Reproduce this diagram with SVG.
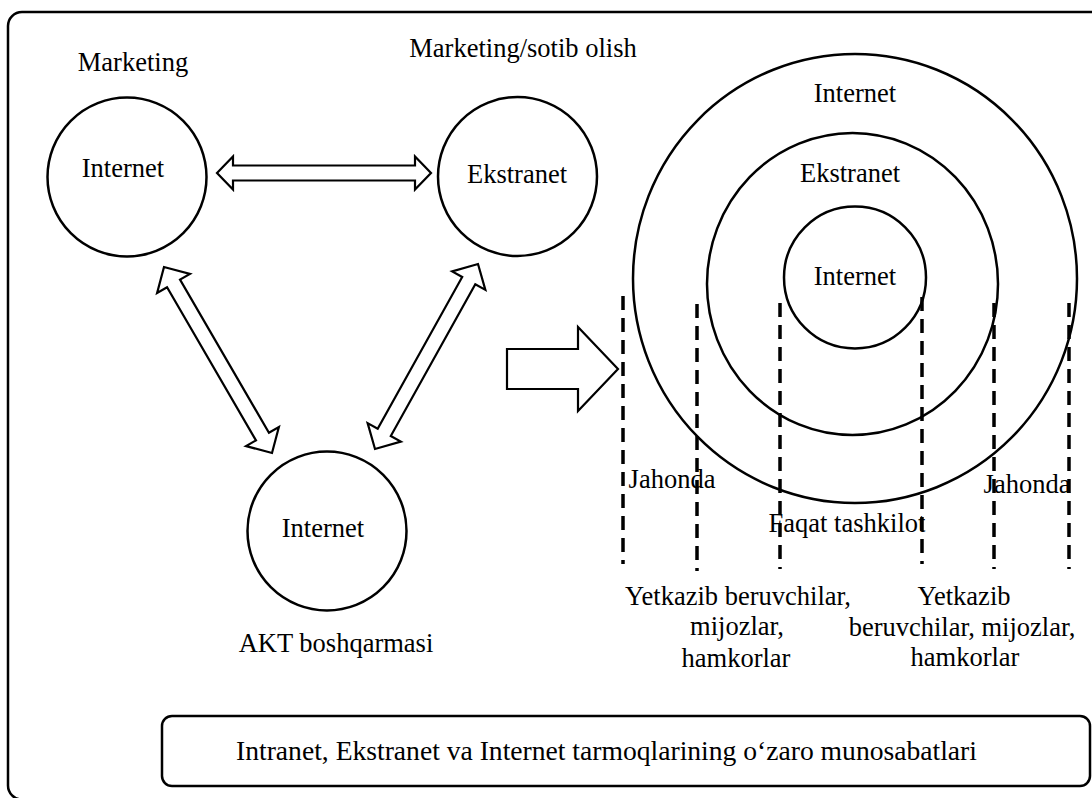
<svg xmlns="http://www.w3.org/2000/svg" width="1092" height="798" viewBox="0 0 1092 798">
  <style>
    .frame { fill: none; stroke: #000; stroke-width: 2.5; }
    .node { fill: #fff; stroke: #000; stroke-width: 2.5; }
    .ring { fill: none; stroke: #000; stroke-width: 2.5; }
    .arrow { fill: #fff; stroke: #000; stroke-width: 2.2; stroke-linejoin: miter; }
    .divider { stroke: #000; stroke-width: 3.5; stroke-dasharray: 14 8; fill: none; }
    text { font-family: "Liberation Serif", "Times New Roman", serif; font-size: 26.5px; fill: #000; text-anchor: middle; }
    .caption { font-size: 27.6px; }
  </style>

  <rect width="1092" height="798" fill="#fff"/>

  <!-- outer frame (runs past the right and bottom edges) -->
  <rect class="frame" x="8" y="12" width="1110" height="787.5" rx="14"/>

  <!-- connectors -->
  <g id="connectors">
    <polygon class="arrow" points="217,173 233,156.5 233,165.5 415,165.5 415,156.5 431,173 415,189.5 415,180.5 233,180.5 233,189.5"/>
    <polygon class="arrow" points="164,267 157.11,292.97 167.05,287.2 255.97,440.34 246.03,446.11 272,453 278.89,427.03 268.95,432.8 180.03,279.66 189.97,273.89"/>
    <polygon class="arrow" points="478,264 485.36,289.84 475.31,284.25 390.79,436.05 400.84,441.64 375,449 367.64,423.16 377.69,428.75 462.21,276.95 452.16,271.36"/>
    <polygon class="arrow" points="507,349 578,349 578,327 618,369 578,411 578,389 507,389"/>
  </g>

  <!-- left triangle of networks -->
  <g id="node-marketing">
    <text x="133" y="71">Marketing</text>
    <circle class="node" cx="127" cy="177" r="79.5"/>
    <text x="123" y="177">Internet</text>
  </g>

  <g id="node-purchasing">
    <text x="523" y="57">Marketing/sotib olish</text>
    <circle class="node" cx="517.5" cy="176.5" r="79.5"/>
    <text x="517" y="183">Ekstranet</text>
  </g>

  <g id="node-ict">
    <circle class="node" cx="327" cy="531" r="79.5"/>
    <text x="323" y="537">Internet</text>
    <text x="336" y="652">AKT boshqarmasi</text>
  </g>

  <!-- concentric networks -->
  <g id="node-rings">
    <ellipse class="ring" cx="855" cy="278.5" rx="222" ry="224.5"/>
    <ellipse class="ring" cx="852.5" cy="284" rx="145.5" ry="151"/>
    <circle class="ring" cx="855" cy="277.5" r="71"/>
    <text x="855" y="102">Internet</text>
    <text x="850" y="182">Ekstranet</text>
    <text x="855" y="285">Internet</text>
  </g>

  <!-- zone boundaries -->
  <g id="node-zones">
    <line class="divider" x1="623" y1="296" x2="623" y2="564"/>
    <line class="divider" x1="697" y1="304" x2="697" y2="571"/>
    <line class="divider" x1="780" y1="303" x2="780" y2="569"/>
    <line class="divider" x1="922" y1="297" x2="922" y2="564"/>
    <line class="divider" x1="994" y1="303" x2="994" y2="569"/>
    <line class="divider" x1="1069" y1="303" x2="1069" y2="569"/>
    <text x="672" y="488">Jahonda</text>
    <text x="1027" y="493">Jahonda</text>
    <text x="847" y="532">Faqat tashkilot</text>
  </g>

  <g id="node-partners-left">
    <text x="738" y="605">Yetkazib beruvchilar,</text>
    <text x="737" y="635">mijozlar,</text>
    <text x="736" y="667">hamkorlar</text>
  </g>

  <g id="node-partners-right">
    <text x="964" y="605">Yetkazib</text>
    <text x="962" y="636">beruvchilar, mijozlar,</text>
    <text x="965" y="666">hamkorlar</text>
  </g>

  <!-- caption -->
  <g id="node-caption">
    <rect class="frame" x="162" y="716" width="928" height="70" rx="10"/>
    <text class="caption" x="606.5" y="760">Intranet, Ekstranet va Internet tarmoqlarining o‘zaro munosabatlari</text>
  </g>
</svg>
